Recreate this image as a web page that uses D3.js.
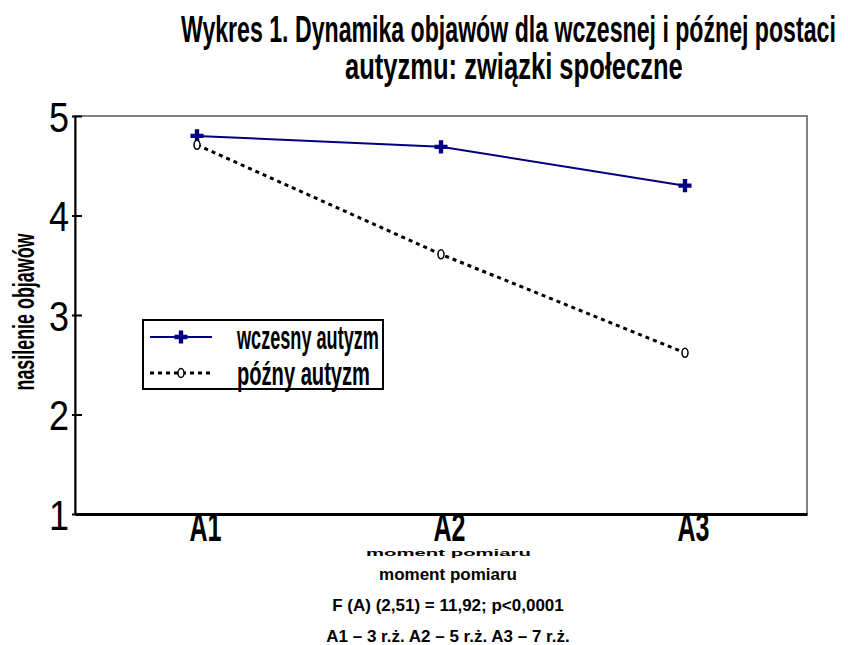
<!DOCTYPE html>
<html>
<head>
<meta charset="utf-8">
<script src="https://cdn.jsdelivr.net/npm/d3@7"></script>
<style>
  body { margin: 0; background: #fff; }
  svg { display: block; }
</style>
</head>
<body>
<svg id="chart" width="848" height="645"></svg>
<script>
  // values
  const categories = ["A1", "A2", "A3"];
  const seriesNames = ["wczesny autyzm", "późny autyzm"];
  const earlyValues = [4.80, 4.69, 4.30];
  const lateValues = [4.71, 3.61, 2.62];
  const yTicks = [1, 2, 3, 4, 5];
  const titleLines = ["Wykres 1. Dynamika objawów dla wczesnej i późnej postaci", "autyzmu: związki społeczne"];
  const yLabel = "nasilenie objawów";
  const xLabel = "moment pomiaru";
  const notes = ["moment pomiaru", "F (A) (2,51) = 11,92; p<0,0001", "A1 – 3 r.ż.  A2 – 5 r.ż.  A3 – 7 r.ż."];

  const svg = d3.select("#chart");
  const narrow = "'Liberation Sans Narrow', 'Liberation Sans', Arial, sans-serif";
  const plot = { left: 75, right: 807, top: 116, bottom: 514 };

  const x = d3.scalePoint().domain(categories).range([plot.left, plot.right]).padding(0.5);
  const y = d3.scaleLinear().domain([1, 5]).range([plot.bottom, plot.top]);

  // squeeze a text horizontally to a given width (old metafile look)
  function squeezed(parent, str, px, py, width, size, sy, rot) {
    const t = parent.append("text")
      .attr("font-family", narrow)
      .attr("font-size", size)
      .attr("font-weight", "bold")
      .text(str);
    const w = t.node().getComputedTextLength();
    const anchor = rot ? -w / 2 : 0;
    t.attr("x", anchor);
    t.attr("transform", "translate(" + px + "," + py + ")" + (rot ? " rotate(" + rot + ")" : "") +
      " scale(" + (width / w) + "," + (sy || 1) + ")");
    return t;
  }

  // title
  squeezed(svg, titleLines[0], 181, 42, 655, 37);
  squeezed(svg, titleLines[1], 345, 79, 338, 37);

  // frame: grey top/right, black axes
  svg.append("rect")
    .attr("x", plot.left).attr("y", plot.top)
    .attr("width", plot.right - plot.left).attr("height", plot.bottom - plot.top)
    .attr("fill", "none").attr("stroke", "#808080").attr("stroke-width", 2);

  const yAxis = svg.append("g")
      .attr("transform", "translate(" + plot.left + ",0)")
      .call(d3.axisLeft(y).tickValues(yTicks).tickFormat(d3.format("d")).tickSizeInner(-7).tickSizeOuter(0).tickPadding(6));
  yAxis.select(".domain").attr("stroke", "#000").attr("stroke-width", 2);
  yAxis.selectAll(".tick line").attr("stroke", "#000").attr("stroke-width", 2).attr("x1", -3);
  yAxis.selectAll(".tick text")
      .attr("font-family", narrow)
      .attr("font-size", 42)
      .attr("fill", "#000")
      .attr("dy", "0.36em")
      .attr("textLength", 20)
      .attr("lengthAdjust", "spacingAndGlyphs");

  const xAxis = svg.append("g")
      .attr("transform", "translate(0," + plot.bottom + ")")
      .call(d3.axisBottom(x).tickSize(0).tickPadding(3));
  xAxis.select(".domain").attr("stroke", "#000").attr("stroke-width", 3);
  xAxis.selectAll(".tick text")
      .attr("font-family", narrow)
      .attr("font-size", 40)
      .attr("font-weight", "bold")
      .attr("fill", "#000")
      .attr("dx", 8)
      .attr("dy", "0.6em")
      .attr("textLength", 32)
      .attr("lengthAdjust", "spacingAndGlyphs");

  // squashed axis title under the ticks
  squeezed(svg, xLabel, 366, 556, 165, 20, 0.45);

  // y title
  squeezed(svg, yLabel, 34, 312, 157, 30, 1, -90);

  // series
  const series = [
    { name: seriesNames[0], values: earlyValues, color: "#000080", dash: null, marker: "plus" },
    { name: seriesNames[1], values: lateValues, color: "#000", dash: "4,4", marker: "circle" }
  ];

  const line = d3.line().x((d, i) => x(categories[i])).y(d => y(d));

  function drawMarker(g, s, cx, cy) {
    if (s.marker === "plus") {
      g.append("path")
        .attr("d", d3.symbol(d3.symbolCross, 95)())
        .attr("transform", "translate(" + cx + "," + cy + ")")
        .attr("fill", s.color);
    } else {
      g.append("ellipse")
        .attr("cx", cx).attr("cy", cy)
        .attr("rx", 3).attr("ry", 4.5)
        .attr("fill", "#fff").attr("stroke", s.color).attr("stroke-width", 1.5);
    }
  }

  series.forEach(s => {
    const g = svg.append("g");
    g.append("path")
      .datum(s.values)
      .attr("d", line)
      .attr("fill", "none")
      .attr("stroke", s.color)
      .attr("stroke-width", s.dash ? 3 : 2)
      .attr("stroke-dasharray", s.dash);
    s.values.forEach((v, i) => drawMarker(g, s, x(categories[i]), y(v)));
  });

  // legend
  const legend = svg.append("g").attr("transform", "translate(143,320)");
  legend.append("rect")
    .attr("width", 240).attr("height", 69)
    .attr("fill", "#fff").attr("stroke", "#000").attr("stroke-width", 2);
  series.forEach((s, i) => {
    const ly = 17 + i * 36;
    legend.append("line")
      .attr("x1", 7).attr("x2", 69).attr("y1", ly).attr("y2", ly)
      .attr("stroke", s.color)
      .attr("stroke-width", s.dash ? 3 : 2)
      .attr("stroke-dasharray", s.dash);
    drawMarker(legend, s, 38, ly);
    squeezed(legend, s.name, 94, ly + 12, i === 0 ? 142 : 133, 34);
  });

  // notes below
  svg.append("g").selectAll("text")
    .data(notes)
    .enter().append("text")
      .attr("x", 448)
      .attr("y", (d, i) => 580 + i * 31)
      .attr("text-anchor", "middle")
      .attr("font-family", narrow)
      .attr("font-size", 17)
      .attr("font-weight", "bold")
      .text(d => d);
</script>
</body>
</html>
